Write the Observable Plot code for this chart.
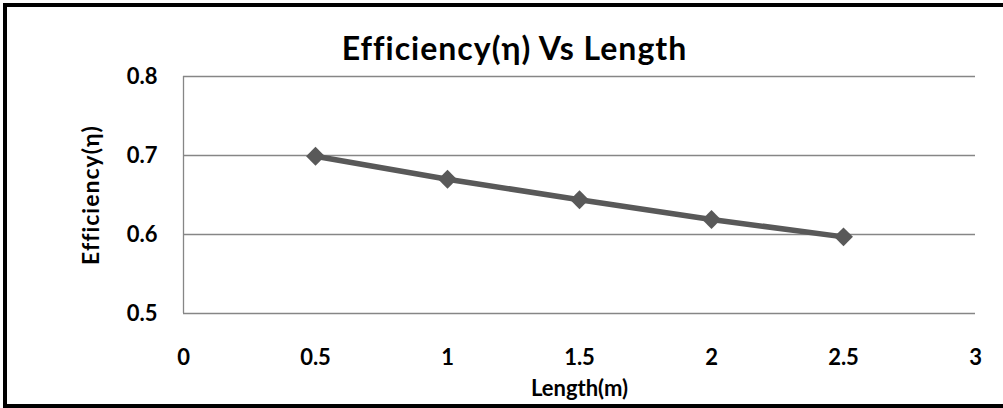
<!DOCTYPE html>
<html>
<head>
<meta charset="utf-8">
<script src="https://cdn.jsdelivr.net/npm/d3@7"></script>
<script src="https://cdn.jsdelivr.net/npm/@observablehq/plot@0.6"></script>
<style>
  html, body { margin: 0; padding: 0; background: #fff; overflow: hidden; }
  #wrap { position: relative; width: 1003px; height: 408px; }
  #border { position: absolute; left: 3px; top: 3px; width: 1020px; height: 405px; box-sizing: border-box; border: 4px solid #000; pointer-events: none; }
  svg { font-family: Lato, "Open Sans", sans-serif; font-variant-ligatures: none; }
  svg g[aria-label="x-axis tick label"], svg g[aria-label="y-axis tick label"] { font-size: 22px !important; font-weight: bold; }
  .ttl { letter-spacing: 1px; }
  .ylab { letter-spacing: 1px; }
</style>
</head>
<body>
<div id="wrap"><div id="border"></div></div>
<script>
const lengths = [0.5, 1, 1.5, 2, 2.5];
const efficiency = [0.699, 0.670, 0.644, 0.619, 0.597];
const xTicks = [0, 0.5, 1, 1.5, 2, 2.5, 3];
const yTicks = [0.5, 0.6, 0.7, 0.8];
const titleText = "Efficiency(η) Vs Length";
const xLabel = "Length(m)";
const yLabel = "Efficiency(η)";

const data = lengths.map((x, i) => ({x, y: efficiency[i]}));
const fontFam = "Lato, 'Open Sans', sans-serif";

const chart = Plot.plot({
  width: 1003,
  height: 408,
  marginLeft: 183,
  marginRight: 28,
  marginTop: 76,
  marginBottom: 95,
  style: {fontFamily: fontFam, fontSize: "22px", fontWeight: "bold", background: "transparent", overflow: "visible"},
  x: {domain: [0, 3], ticks: xTicks, tickFormat: d => String(d), label: null},
  y: {domain: [0.5, 0.8], ticks: yTicks, tickFormat: d => String(d), label: null},
  marks: [
    Plot.gridY(yTicks, {stroke: "#868686", strokeOpacity: 1, strokeWidth: 1.3}),
    Plot.ruleX([0], {stroke: "#868686", strokeWidth: 1.3}),
    Plot.axisX({ticks: xTicks, tickSize: 0, tickPadding: 36, tickFormat: d => String(d), fill: "#000", label: null}),
    Plot.axisY({ticks: yTicks, tickSize: 0, tickPadding: 26, tickFormat: d => String(d), fill: "#000", label: null}),
    Plot.line(data, {x: "x", y: "y", stroke: "#595959", strokeWidth: 5.5}),
    Plot.dot(data, {x: "x", y: "y", symbol: "diamond2", r: 8.5, fill: "#595959", stroke: "none"}),
    Plot.text([titleText], {frameAnchor: "top", lineAnchor: "middle", dx: -65, dy: -27, fontSize: 32, fontWeight: "bold", fill: "#000", className: "ttl"}),
    Plot.text([xLabel], {frameAnchor: "bottom", lineAnchor: "middle", dy: 75, fontSize: 22, fontWeight: "bold", fill: "#000"}),
    Plot.text([yLabel], {frameAnchor: "left", lineAnchor: "middle", dx: -92, rotate: -90, textAnchor: "middle", fontSize: 23, fontWeight: "bold", fill: "#000", className: "ylab"})
  ]
});
document.getElementById("wrap").prepend(chart);
</script>
</body>
</html>
